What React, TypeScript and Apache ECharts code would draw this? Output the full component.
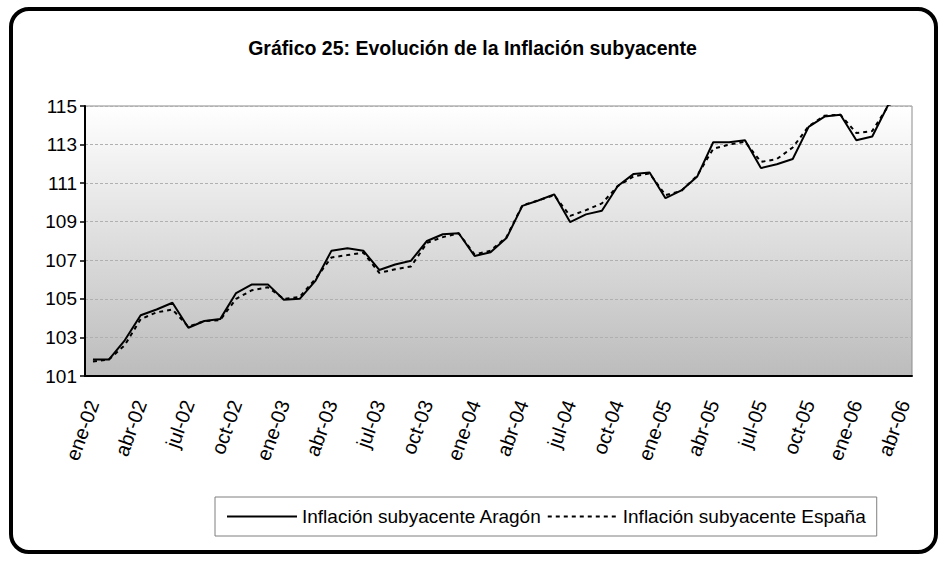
import React, { useEffect, useRef } from "react";
import * as echarts from "echarts";

const categories = [
  "ene-02", "feb-02", "mar-02", "abr-02", "may-02", "jun-02", "jul-02", "ago-02", "sep-02", "oct-02", "nov-02", "dic-02",
  "ene-03", "feb-03", "mar-03", "abr-03", "may-03", "jun-03", "jul-03", "ago-03", "sep-03", "oct-03", "nov-03", "dic-03",
  "ene-04", "feb-04", "mar-04", "abr-04", "may-04", "jun-04", "jul-04", "ago-04", "sep-04", "oct-04", "nov-04", "dic-04",
  "ene-05", "feb-05", "mar-05", "abr-05", "may-05", "jun-05", "jul-05", "ago-05", "sep-05", "oct-05", "nov-05", "dic-05",
  "ene-06", "feb-06", "mar-06", "abr-06",
];

const aragon = [
  101.85, 101.85, 102.85, 104.15, 104.45, 104.8, 103.5, 103.85, 103.95, 105.3, 105.75, 105.75,
  104.95, 105.0, 105.95, 107.5, 107.62, 107.5, 106.5, 106.78, 106.98, 108.0, 108.35, 108.4,
  107.22, 107.42, 108.15, 109.82, 110.1, 110.42, 108.98, 109.38, 109.57, 110.85, 111.48, 111.55,
  110.22, 110.62, 111.35, 113.12, 113.12, 113.23, 111.78, 111.98, 112.25, 113.92, 114.45, 114.55,
  113.22, 113.42, 115.05, 115.7,
];

const espana = [
  101.75, 101.85, 102.6, 103.95, 104.3, 104.45, 103.55, 103.85, 103.9, 105.0, 105.45, 105.6,
  105.0, 105.1, 106.05, 107.15, 107.27, 107.4, 106.35, 106.53, 106.68, 107.9, 108.2, 108.4,
  107.3, 107.5, 108.2, 109.85, 110.1, 110.38, 109.3, 109.6, 109.95, 110.85, 111.35, 111.5,
  110.38, 110.6, 111.4, 112.78, 113.0, 113.15, 112.1, 112.25, 112.85, 113.95, 114.5, 114.55,
  113.6, 113.7, 115.0, 115.6,
];

const seriesNames = ["Inflación subyacente Aragón", "Inflación subyacente España"];
const titleText = "Gráfico 25: Evolución de la Inflación subyacente";
const yMin = 101;
const yMax = 115;
const yStep = 2;

const FONT = 'Arial, "Liberation Sans", sans-serif';

export default function App() {
  const ref = useRef<HTMLDivElement>(null);

  useEffect(() => {
    if (!ref.current) return;
    const chart = echarts.init(ref.current, null, { renderer: "svg" });
    chart.setOption({
      animation: false,
      backgroundColor: "#ffffff",
      title: {
        text: titleText,
        left: "center",
        top: 33,
        textStyle: { fontFamily: FONT, fontSize: 19.5, fontWeight: "bold", color: "#000" },
      },
      graphic: [
        {
          type: "rect",
          shape: { x: 11, y: 9, width: 925, height: 543, r: 18 },
          style: { fill: "none", stroke: "#000", lineWidth: 4 },
          z: 100,
        },
      ],
      legend: {
        left: 215,
        top: 497,
        data: seriesNames,
        itemWidth: 70,
        itemHeight: 14,
        itemGap: 5,
        padding: [10, 11],
        borderColor: "#7f7f7f",
        borderWidth: 1,
        backgroundColor: "#fff",
        itemStyle: { opacity: 0 },
        textStyle: { fontFamily: FONT, fontSize: 19, color: "#000" },
      },
      grid: {
        left: 85,
        right: 33,
        top: 106,
        bottom: 185,
        show: true,
        borderColor: "#8c8c8c",
        borderWidth: 1,
        backgroundColor: new echarts.graphic.LinearGradient(0, 0, 0, 1, [
          { offset: 0, color: "#ffffff" },
          { offset: 1, color: "#bcbcbc" },
        ]),
      },
      xAxis: {
        type: "category",
        data: categories,
        boundaryGap: true,
        axisLine: { lineStyle: { color: "#000", width: 2 } },
        axisTick: { interval: 2, length: 5, lineStyle: { color: "#000", width: 1.5 } },
        axisLabel: {
          interval: 2,
          rotate: 70,
          margin: 25,
          fontFamily: FONT,
          fontSize: 20,
          color: "#000",
        },
        splitLine: { show: false },
      },
      yAxis: {
        type: "value",
        min: yMin,
        max: yMax,
        interval: yStep,
        axisLine: { show: true, lineStyle: { color: "#000", width: 2 } },
        axisTick: { show: true, length: 5, lineStyle: { color: "#000", width: 1.5 } },
        axisLabel: { margin: 8, fontFamily: FONT, fontSize: 19, color: "#000" },
        splitLine: { show: true, lineStyle: { color: "#b0b0b0", type: [3, 2], width: 1 } },
      },
      series: [
        {
          name: seriesNames[0],
          type: "line",
          data: aragon,
          symbol: "none",
          clip: true,
          lineStyle: { color: "#000", width: 2 },
          itemStyle: { color: "#000" },
          z: 3,
        },
        {
          name: seriesNames[1],
          type: "line",
          data: espana,
          symbol: "none",
          clip: true,
          lineStyle: { color: "#000", width: 2, type: [4, 4] },
          itemStyle: { color: "#000" },
          z: 2,
        },
      ],
    });
    return () => chart.dispose();
  }, []);

  return (
    <div
      ref={ref}
      style={{ position: "fixed", left: 0, top: 0, width: 945, height: 561 }}
    />
  );
}
